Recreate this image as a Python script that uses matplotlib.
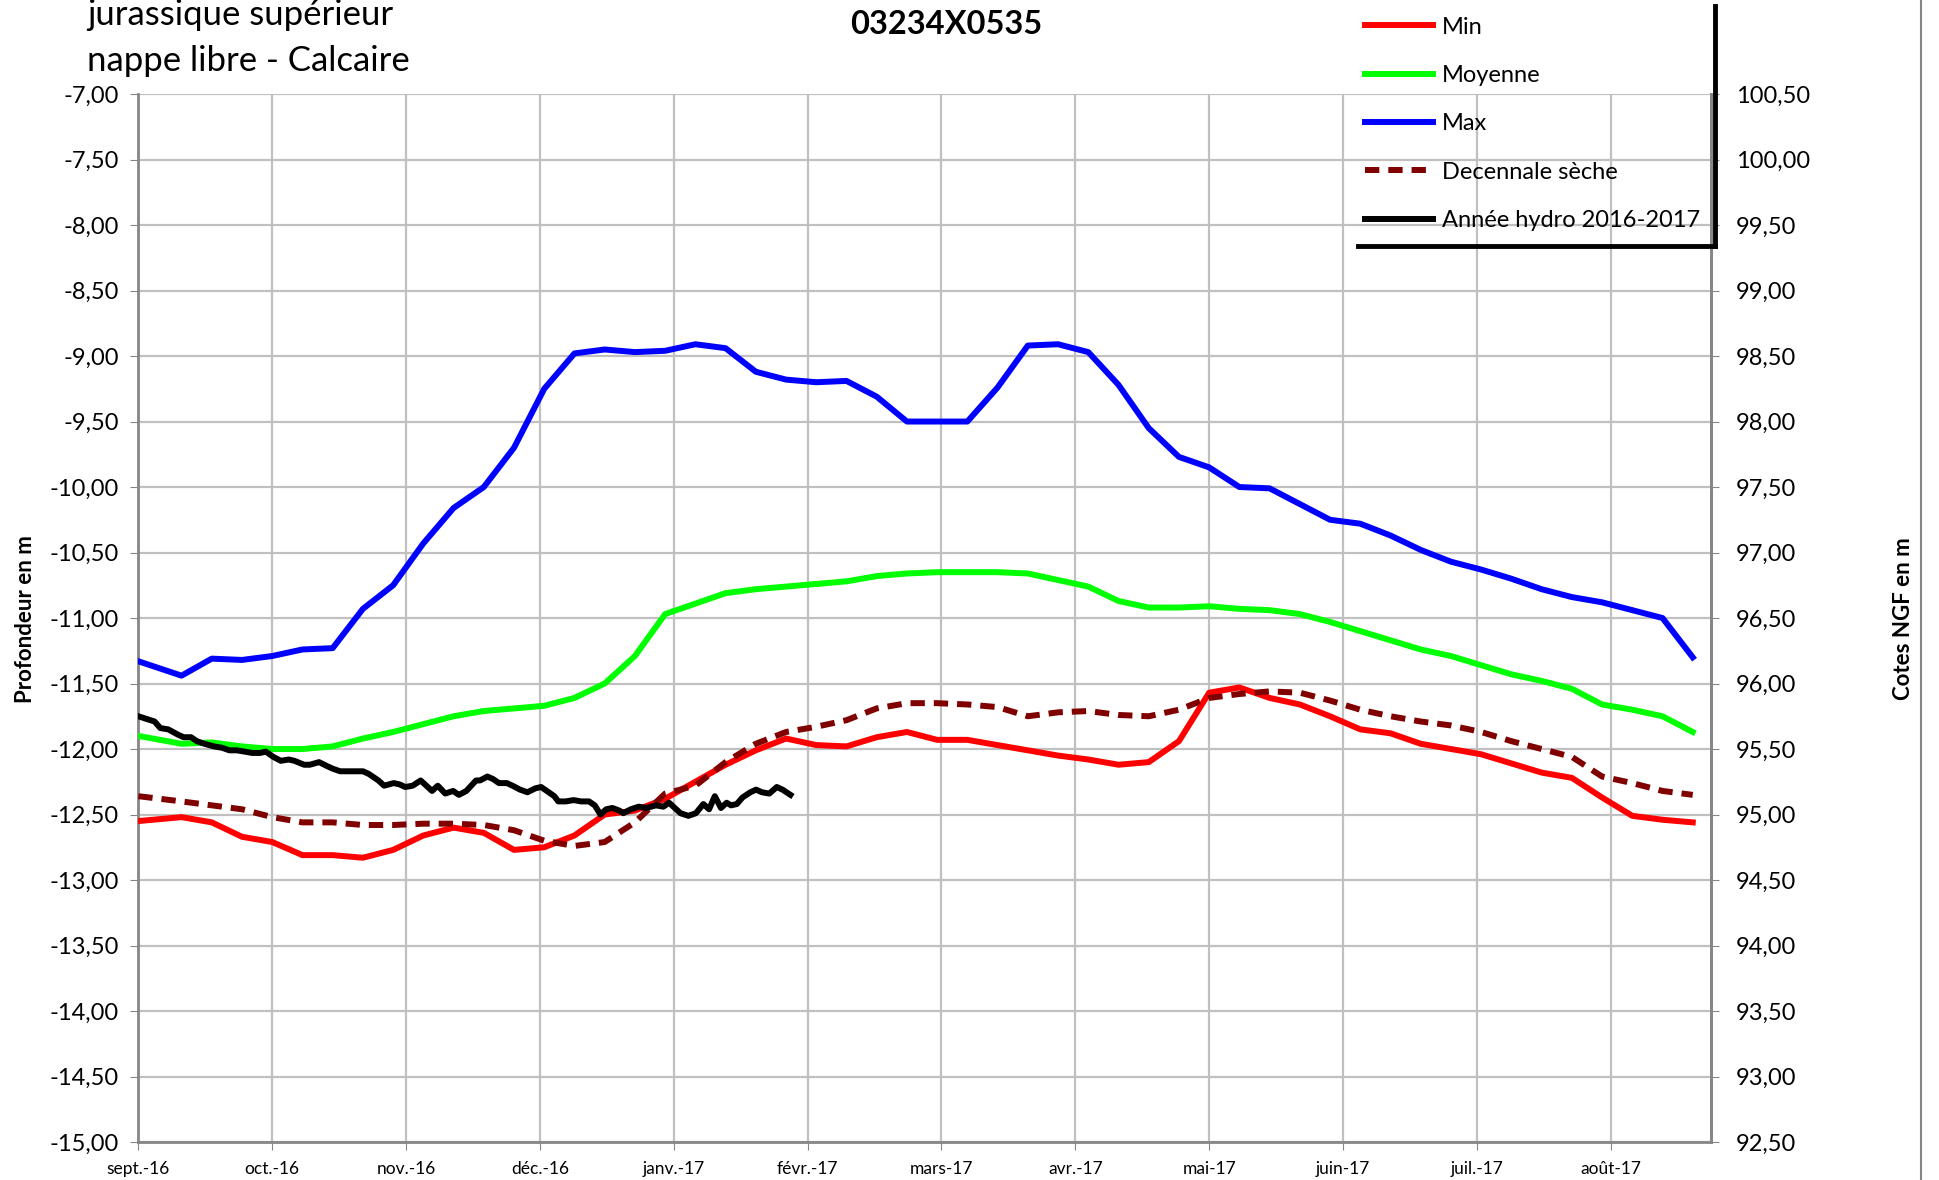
import numpy as np
import matplotlib
matplotlib.use('Agg')
import matplotlib.pyplot as plt
from matplotlib.lines import Line2D
from matplotlib.ticker import FuncFormatter

plt.rcParams['font.family'] = ['Lato', 'DejaVu Sans']

# axe des x : un cran par mois (sept. 2016 -> août 2017)
mois = ['sept.-16', 'oct.-16', 'nov.-16', 'déc.-16', 'janv.-17', 'févr.-17',
        'mars-17', 'avr.-17', 'mai-17', 'juin-17', 'juil.-17', 'août-17']

# points hebdomadaires des statistiques (position en mois)
semaines = np.concatenate([[0.0], 0.323 + 0.2258 * np.arange(51)])

prof_min = [-12.55, -12.52, -12.56, -12.67, -12.71, -12.81, -12.81, -12.83, -12.77, -12.66,
            -12.60, -12.64, -12.77, -12.75, -12.66, -12.50, -12.47, -12.38, -12.25, -12.12,
            -12.01, -11.92, -11.97, -11.98, -11.91, -11.87, -11.93, -11.93, -11.97, -12.01,
            -12.05, -12.08, -12.12, -12.10, -11.94, -11.57, -11.53, -11.61, -11.66, -11.75,
            -11.85, -11.88, -11.96, -12.00, -12.04, -12.11, -12.18, -12.22, -12.37, -12.51,
            -12.54, -12.56]
prof_moy = [-11.90, -11.96, -11.95, -11.98, -12.00, -12.00, -11.98, -11.92, -11.87, -11.81,
            -11.75, -11.71, -11.69, -11.67, -11.61, -11.50, -11.29, -10.97, -10.89, -10.81,
            -10.78, -10.76, -10.74, -10.72, -10.68, -10.66, -10.65, -10.65, -10.65, -10.66,
            -10.71, -10.76, -10.87, -10.92, -10.92, -10.91, -10.93, -10.94, -10.97, -11.03,
            -11.10, -11.17, -11.24, -11.29, -11.36, -11.43, -11.48, -11.54, -11.66, -11.70,
            -11.75, -11.87]
prof_max = [-11.33, -11.44, -11.31, -11.32, -11.29, -11.24, -11.23, -10.93, -10.75, -10.43,
            -10.16, -10.00, -9.70, -9.25, -8.98, -8.95, -8.97, -8.96, -8.91, -8.94,
            -9.12, -9.18, -9.20, -9.19, -9.31, -9.50, -9.50, -9.50, -9.24, -8.92,
            -8.91, -8.97, -9.22, -9.55, -9.77, -9.85, -10.00, -10.01, -10.13, -10.25,
            -10.28, -10.37, -10.48, -10.57, -10.63, -10.70, -10.78, -10.84, -10.88, -10.94,
            -11.00, -11.30]
prof_dec = [-12.36, -12.40, -12.43, -12.46, -12.52, -12.56, -12.56, -12.58, -12.58, -12.57,
            -12.57, -12.58, -12.62, -12.70, -12.74, -12.71, -12.56, -12.34, -12.28, -12.10,
            -11.96, -11.87, -11.83, -11.78, -11.69, -11.65, -11.65, -11.66, -11.68, -11.75,
            -11.72, -11.71, -11.74, -11.75, -11.70, -11.61, -11.58, -11.56, -11.57, -11.63,
            -11.70, -11.75, -11.79, -11.82, -11.87, -11.94, -12.00, -12.06, -12.21, -12.26,
            -12.32, -12.35]

# annee hydro en cours : jours depuis le 1er sept. 2016
jours_2016 = [0, 3.7, 5.0, 6.8, 9.0, 10.3, 12.0, 13.3, 15.0, 17.2, 19.0, 20.7, 22.4, 24.2,
              25.9, 27.7, 29.0, 30.7, 32.4, 34.2, 35.5, 37.7, 39.0, 41.1, 42.9, 44.2, 45.9,
              48.5, 51.1, 52.4, 54.6, 55.9, 58.1, 59.4, 60.7, 62.4, 64.2, 65.5, 66.8, 68.1,
              69.8, 71.6, 72.9, 74.6, 76.8, 77.7, 79.4, 80.7, 82.0, 83.8, 85.1, 86.8, 88.5,
              90.3, 91.6, 92.9, 94.6, 95.5, 97.2, 99.0, 100.7, 102.5, 103.8, 105.1, 106.4,
              107.8, 109.4, 110.3, 112.0, 113.8, 115.5, 117.7, 119.4, 120.7, 122.0, 123.3,
              125.1, 126.8, 128.5, 129.8, 131.1, 132.5, 133.8, 134.8, 136.1, 137.4, 139.2,
              140.5, 141.8, 143.5, 145.2, 146.5, 148.3]
prof_2016 = [-11.75, -11.79, -11.84, -11.85, -11.89, -11.91, -11.91, -11.94, -11.96, -11.98,
             -11.99, -12.01, -12.01, -12.02, -12.03, -12.03, -12.02, -12.06, -12.09, -12.08,
             -12.09, -12.12, -12.12, -12.10, -12.13, -12.15, -12.17, -12.17, -12.17, -12.19,
             -12.24, -12.28, -12.26, -12.27, -12.29, -12.28, -12.24, -12.28, -12.32, -12.28,
             -12.34, -12.32, -12.35, -12.32, -12.24, -12.24, -12.21, -12.23, -12.26, -12.26,
             -12.28, -12.31, -12.33, -12.30, -12.29, -12.32, -12.36, -12.40, -12.40, -12.39,
             -12.40, -12.40, -12.43, -12.50, -12.46, -12.45, -12.47, -12.49, -12.46, -12.44,
             -12.45, -12.43, -12.44, -12.41, -12.45, -12.49, -12.51, -12.49, -12.42, -12.46,
             -12.36, -12.45, -12.41, -12.43, -12.42, -12.37, -12.33, -12.31, -12.33, -12.34,
             -12.29, -12.31, -12.35]

ecart_ngf = 107.5  # cote NGF = profondeur + ecart

fig = plt.figure(figsize=(19.4, 11.8), dpi=100)
ax = fig.add_axes([0.0713, 0.0322, 0.8107, 0.8881])

lw = 4.3
ax.plot(semaines, prof_min, color='#FF0000', lw=lw, solid_joinstyle='round', label='Min', zorder=3)
ax.plot(semaines, prof_moy, color='#00FF00', lw=lw, solid_joinstyle='round', label='Moyenne', zorder=3)
ax.plot(semaines, prof_max, color='#0000FF', lw=lw, solid_joinstyle='round', label='Max', zorder=3)
ax.plot(semaines, prof_dec, color='#800000', lw=lw, dashes=(2.4, 1.5), label='Decennale sèche', zorder=4)
ax.plot(np.array(jours_2016) / 30.44, prof_2016, color='black', lw=lw, solid_joinstyle='round',
        label='Année hydro 2016-2017', zorder=5)

gris = '#868686'
ax.set_xlim(0, 11.75)
ax.set_ylim(-15, -7)
ax.set_xticks(range(len(mois)))
ax.set_xticklabels(mois, fontsize=12.5)
ax.set_yticks(np.arange(-15, -6.99, 0.5))
ax.yaxis.set_major_formatter(FuncFormatter(lambda v, p: f'{v:.2f}'.replace('.', ',')))
ax.tick_params(axis='y', labelsize=17, length=6, color=gris, pad=8)
ax.tick_params(axis='x', length=6, color=gris, pad=8)
ax.grid(True, color='#C0C0C0', lw=1.6)
ax.set_axisbelow(True)
ax.spines['top'].set_visible(False)
for s in ['left', 'bottom', 'right']:
    ax.spines[s].set_color(gris)
    ax.spines[s].set_linewidth(2)

ax2 = ax.twinx()
ax2.set_ylim(-15 + ecart_ngf, -7 + ecart_ngf)
ax2.set_yticks(np.arange(92.5, 100.51, 0.5))
ax2.yaxis.set_major_formatter(FuncFormatter(lambda v, p: f'{v:.2f}'.replace('.', ',')))
ax2.tick_params(axis='y', labelsize=17, length=6, color=gris, pad=12)
for s in ['top', 'left', 'bottom']:
    ax2.spines[s].set_visible(False)
ax2.spines['right'].set_color(gris)
ax2.spines['right'].set_linewidth(2)

# titres des axes
fig.text(0.0129, 0.4754, 'Profondeur en m', fontsize=16, fontweight='bold',
         rotation=90, ha='center', va='center')
fig.text(0.981, 0.4754, 'Cotes NGF en m', fontsize=16, fontweight='bold',
         rotation=90, ha='center', va='center')

fig.text(0.045, 0.987, 'jurassique supérieur', fontsize=25, va='center', ha='left')
fig.text(0.045, 0.948, 'nappe libre - Calcaire', fontsize=25, va='center', ha='left')
fig.text(0.4876, 0.979, '03234X0535', fontsize=23.5, fontweight='bold', ha='center', va='center')

h, l = ax.get_legend_handles_labels()
fig.legend(h, l, loc='upper left', bbox_to_anchor=(0.7036, 0.986), frameon=False,
           fontsize=17, handlelength=2.9, handletextpad=0.35, labelspacing=1.16,
           borderpad=0, borderaxespad=0)

# cadre noir partiel de la legende et bord du graphique
fig.add_artist(Line2D([0.8840, 0.8840], [0.995, 0.7915], color='black', lw=3.5))
fig.add_artist(Line2D([0.7000, 0.8840], [0.7915, 0.7915], color='black', lw=3.5))
fig.add_artist(Line2D([0.9902, 0.9902], [0.0, 1.0], color=gris, lw=1.5))

fig.savefig('out.png', dpi=100)
